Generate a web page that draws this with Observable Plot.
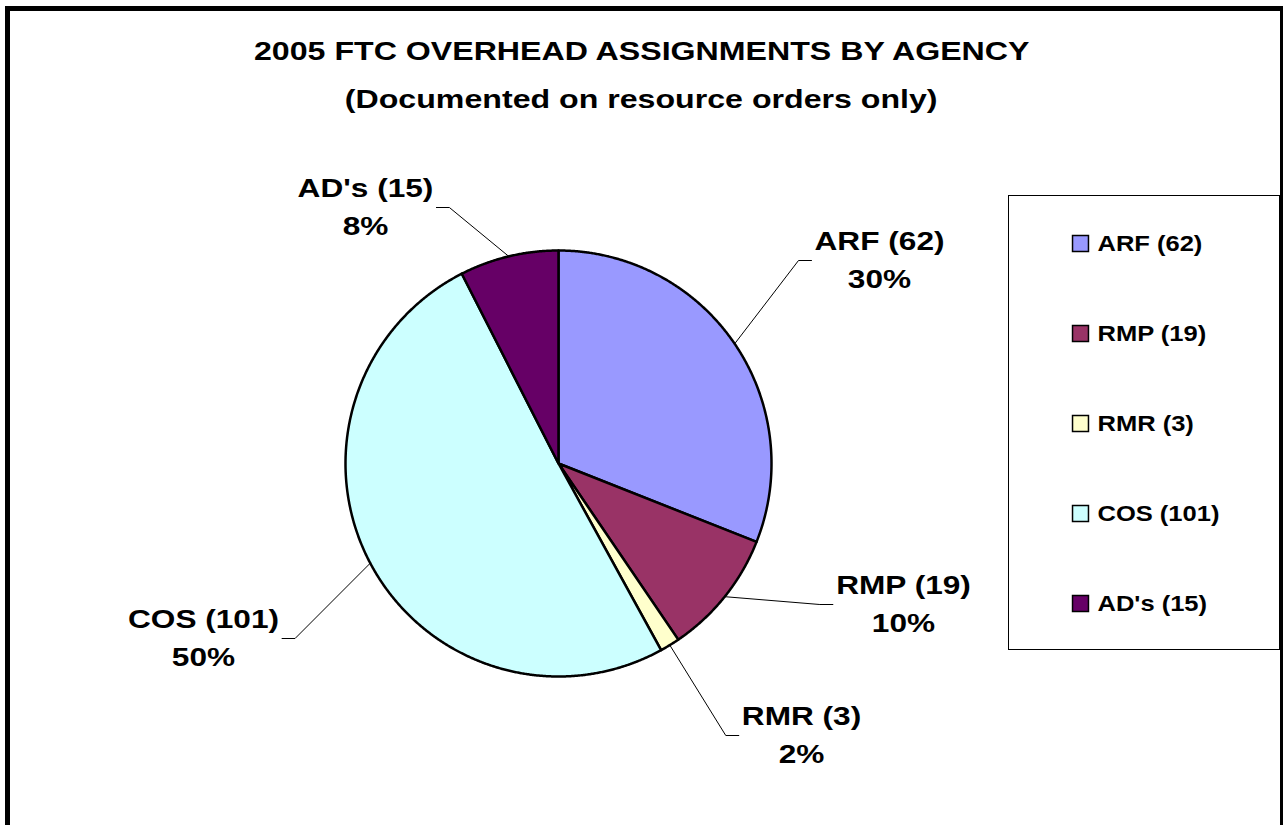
<!DOCTYPE html>
<html><head><meta charset="utf-8">
<script src="https://cdn.jsdelivr.net/npm/d3@7"></script>
<script src="https://cdn.jsdelivr.net/npm/@observablehq/plot@0.6"></script>
<style>
html,body{margin:0;padding:0;background:#fff;width:1283px;height:825px;overflow:hidden;}
#frame{position:absolute;left:5px;top:6px;width:1270px;height:900px;border:5px solid #000;pointer-events:none;z-index:3}
.t{position:absolute;left:0;width:1283px;text-align:center;font-family:"Liberation Sans",Arial,sans-serif;font-weight:bold;font-size:25.5px;line-height:29px;color:#000;}
.t span{display:inline-block;transform:scaleX(1.26);}
#legbox{position:absolute;left:1008px;top:195px;width:270px;height:453px;border:1px solid #000;z-index:2;pointer-events:none}
#chart{position:absolute;left:0;top:130px;z-index:1}
</style></head><body>
<div id="frame"></div>
<div class="t" style="top:37px"><span>2005 FTC OVERHEAD ASSIGNMENTS BY AGENCY</span></div>
<div class="t" style="top:85px"><span>(Documented on resource orders only)</span></div>
<div id="legbox"></div>
<div id="chart"></div>
<script>
// ---- data ----
const names = ["ARF (62)", "RMP (19)", "RMR (3)", "COS (101)", "AD's (15)"];
const values = [62, 19, 3, 101, 15];
const pctLabels = ["30%", "10%", "2%", "50%", "8%"];
const colors = ["#9999FF", "#993366", "#FFFFCC", "#CCFFFF", "#660066"];

// ---- layout (page pixels) ----
const PIE_CX = 558, PIE_CY = 463, PIE_R = 213, SVG_TOP = 130, W = 1283, H = 695;
const labelCenter = [[879, 260], [903, 604], [801, 735], [203, 638], [365, 207]];
const labelSide = [1, 1, 1, -1, -1];
const legendSwatchX = 1080, legendTextX = 1097, legendY0 = 243, legendStep = 90;
const FS = 25.5, SX = 1.24, LFS = 22, LSX = 1.16, LINE_GAP = 19;
const FONT = '"Liberation Sans", Arial, sans-serif';

const U = px => (px - PIE_CX) / PIE_R;
const V = py => (PIE_CY - py) / PIE_R;

const arcs = d3.pie().sort(null).value(d => d)(values);

const slices = arcs.map(a => {
  const pts = [{u: 0, v: 0}];
  const n = Math.max(2, Math.ceil((a.endAngle - a.startAngle) / 0.005));
  for (let k = 0; k <= n; k++) {
    const t = a.startAngle + (a.endAngle - a.startAngle) * k / n;
    pts.push({u: Math.sin(t), v: Math.cos(t)});
  }
  pts.push({u: 0, v: 0});
  return pts;
});

const ctx = document.createElement("canvas").getContext("2d");
ctx.font = `bold ${FS}px "Liberation Sans"`;

const leaders = [];
const labels = [];
arcs.forEach((a, i) => {
  const mid = (a.startAngle + a.endAngle) / 2;
  const [lx, ly] = labelCenter[i];
  const hw = Math.max(ctx.measureText(names[i]).width, ctx.measureText(pctLabels[i]).width) * SX / 2;
  const endX = lx - labelSide[i] * (hw + 3);
  const kneeX = endX - labelSide[i] * 13;
  leaders.push({i, u: Math.sin(mid), v: Math.cos(mid)});
  leaders.push({i, u: U(kneeX), v: V(ly)});
  leaders.push({i, u: U(endX), v: V(ly)});
  labels.push({name: names[i], pct: pctLabels[i], u: U(lx), v: V(ly)});
});

const legend = names.map((n, i) => ({
  name: n, color: colors[i],
  su: U(legendSwatchX), tu: U(legendTextX), v: V(legendY0 + i * legendStep)
}));

const plot = Plot.plot({
  width: W, height: H,
  margin: 0,
  style: {background: "transparent", fontFamily: FONT, overflow: "visible"},
  x: {domain: [U(0), U(W)], axis: null},
  y: {domain: [V(SVG_TOP + H), V(SVG_TOP)], axis: null},
  color: {type: "identity"},
  marks: [
    ...slices.map((pts, i) => Plot.line(pts, {x: "u", y: "v", fill: colors[i], stroke: "#000", strokeWidth: 2.5, strokeLinejoin: "round", curve: "linear"})),
    Plot.line(leaders, {x: "u", y: "v", z: "i", stroke: "#000", strokeWidth: 1}),
    Plot.text(labels, {x: "u", y: "v", text: "name", dy: -LINE_GAP, fontSize: FS, fontWeight: "bold", fill: "#000", lineAnchor: "middle", className: "lab"}),
    Plot.text(labels, {x: "u", y: "v", text: "pct", dy: LINE_GAP, fontSize: FS, fontWeight: "bold", fill: "#000", lineAnchor: "middle", className: "lab"}),
    Plot.dot(legend, {x: "su", y: "v", symbol: "square", r: 9, fill: "color", stroke: "#000", strokeWidth: 1.5}),
    Plot.text(legend, {x: "tu", y: "v", text: "name", textAnchor: "start", fontSize: LFS, fontWeight: "bold", fill: "#000", lineAnchor: "middle", className: "leg"})
  ]
});

function stretch(sel, s) {
  plot.querySelectorAll(sel).forEach(t => {
    const tr = t.getAttribute("transform");
    if (tr) t.setAttribute("transform", tr + ` scale(${s},1)`);
    else {
      const x = +(t.getAttribute("x") || 0), y = +(t.getAttribute("y") || 0);
      t.setAttribute("transform", `translate(${x},${y}) scale(${s},1) translate(${-x},${-y})`);
    }
  });
}
stretch(".lab text", SX);
stretch(".leg text", LSX);

document.getElementById("chart").appendChild(plot);
</script>
</body></html>
